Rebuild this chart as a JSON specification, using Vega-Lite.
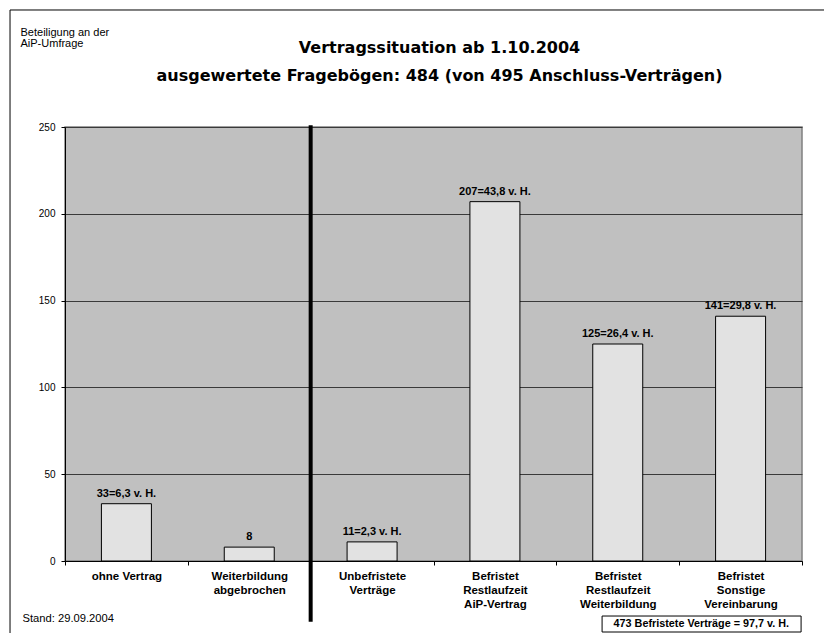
{
  "$schema": "https://vega.github.io/schema/vega-lite/v6.json",
  "width": 737,
  "height": 434,
  "autosize": {"type": "none"},
  "padding": {"left": 65, "top": 127, "right": 22, "bottom": 72},
  "background": "white",
  "config": {
    "view": {"fill": "#C0C0C0", "stroke": "#808080", "strokeWidth": 1.5},
    "font": "Liberation Sans"
  },
  "title": {
    "text": ["Vertragssituation ab 1.10.2004", "ausgewertete Fragebögen: 484 (von 495 Anschluss-Verträgen)"],
    "font": "DejaVu Sans",
    "fontSize": 16,
    "fontWeight": "bold",
    "lineHeight": 28,
    "color": "black",
    "anchor": "middle",
    "frame": "group",
    "dx": 6,
    "offset": -75
  },
  "datasets": {
    "bars": [
      {"cat": "ohne Vertrag", "n": 33, "lab": "33=6,3 v. H."},
      {"cat": "Weiterbildung|abgebrochen", "n": 8, "lab": "8"},
      {"cat": "Unbefristete|Verträge", "n": 11, "lab": "11=2,3 v. H."},
      {"cat": "Befristet|Restlaufzeit|AiP-Vertrag", "n": 207, "lab": "207=43,8 v. H."},
      {"cat": "Befristet|Restlaufzeit|Weiterbildung", "n": 125, "lab": "125=26,4 v. H."},
      {"cat": "Befristet|Sonstige|Vereinbarung", "n": 141, "lab": "141=29,8 v. H."}
    ],
    "divider": [{"cat": "Unbefristete|Verträge"}],
    "note": [{"cat": "Befristet|Sonstige|Vereinbarung", "note": "473 Befristete Verträge = 97,7 v. H."}],
    "frame": [{"part": "chart frame"}]
  },
  "layer": [
    {
      "layer": [
        {
          "data": {"name": "bars"},
          "mark": {"type": "bar", "width": {"band": 0.407}, "fill": "#E2E2E2", "stroke": "black", "strokeWidth": 1},
          "encoding": {
            "x": {
              "field": "cat",
              "type": "nominal",
              "scale": {
                "domain": ["ohne Vertrag", "Weiterbildung|abgebrochen", "Unbefristete|Verträge", "Befristet|Restlaufzeit|AiP-Vertrag", "Befristet|Restlaufzeit|Weiterbildung", "Befristet|Sonstige|Vereinbarung"],
                "paddingInner": 0,
                "paddingOuter": 0
              },
              "axis": {
                "title": "Stand: 29.09.2004",
                "titleX": -43,
                "titleY": 57,
                "titleAlign": "left",
                "titleBaseline": "middle",
                "titleFontWeight": "normal",
                "titleFontSize": 11.2,
                "titleColor": "black",
                "labelAngle": 0,
                "labelFontWeight": "bold",
                "labelFontSize": 11.5,
                "labelLineHeight": 14,
                "labelBaseline": "top",
                "labelPadding": 5,
                "labelColor": "black",
                "labelExpr": "split(datum.label, '|')",
                "tickBand": "extent",
                "tickSize": 4,
                "tickColor": "black",
                "domainColor": "black",
                "grid": false
              }
            },
            "y": {
              "field": "n",
              "type": "quantitative",
              "scale": {"domain": [0, 250], "nice": false},
              "axis": {
                "title": ["Beteiligung an der", "AiP-Umfrage"],
                "titleAngle": 0,
                "titleAlign": "left",
                "titleBaseline": "top",
                "titleX": -45,
                "titleY": -101,
                "titleFontWeight": "normal",
                "titleFontSize": 11,
                "titleLineHeight": 11.5,
                "titleColor": "black",
                "values": [0, 50, 100, 150, 200, 250],
                "labelFontSize": 10,
                "labelColor": "black",
                "labelPadding": 6,
                "tickSize": 4,
                "tickColor": "black",
                "domainColor": "black",
                "gridColor": "#3a3a3a",
                "gridWidth": 1
              }
            }
          }
        },
        {
          "data": {"name": "bars"},
          "mark": {"type": "text", "dy": -5, "baseline": "bottom", "fontWeight": "bold", "fontSize": 11, "color": "black"},
          "encoding": {
            "x": {"field": "cat", "type": "nominal"},
            "y": {"field": "n", "type": "quantitative"},
            "text": {"field": "lab"}
          }
        },
        {
          "data": {"name": "divider"},
          "mark": {"type": "rule", "strokeWidth": 4, "color": "black"},
          "encoding": {
            "x": {"field": "cat", "type": "nominal", "bandPosition": 0},
            "y": {"datum": 251},
            "y2": {"datum": -35}
          }
        },
        {
          "data": {"name": "note"},
          "mark": {"type": "rect", "width": 199, "xOffset": -39, "fill": "white", "stroke": "black", "strokeWidth": 1},
          "encoding": {
            "x": {"field": "cat", "type": "nominal"},
            "y": {"datum": -31.7},
            "y2": {"datum": -40.9}
          }
        },
        {
          "data": {"name": "note"},
          "mark": {"type": "text", "fontWeight": "bold", "fontSize": 10.8, "baseline": "middle", "color": "black"},
          "encoding": {
            "x": {"field": "cat", "type": "nominal", "bandPosition": 0.18},
            "y": {"datum": -36.3},
            "text": {"field": "note"}
          }
        }
      ]
    },
    {
      "data": {"name": "frame"},
      "mark": {"type": "rect", "fill": null, "stroke": "black", "strokeWidth": 1},
      "encoding": {
        "x": {"datum": -0.0746, "type": "quantitative", "scale": {"domain": [0, 1], "nice": false, "zero": false}, "axis": null},
        "x2": {"datum": 1.2},
        "y": {"datum": 317.4},
        "y2": {"datum": -60}
      }
    }
  ],
  "resolve": {"scale": {"x": "independent"}}
}
